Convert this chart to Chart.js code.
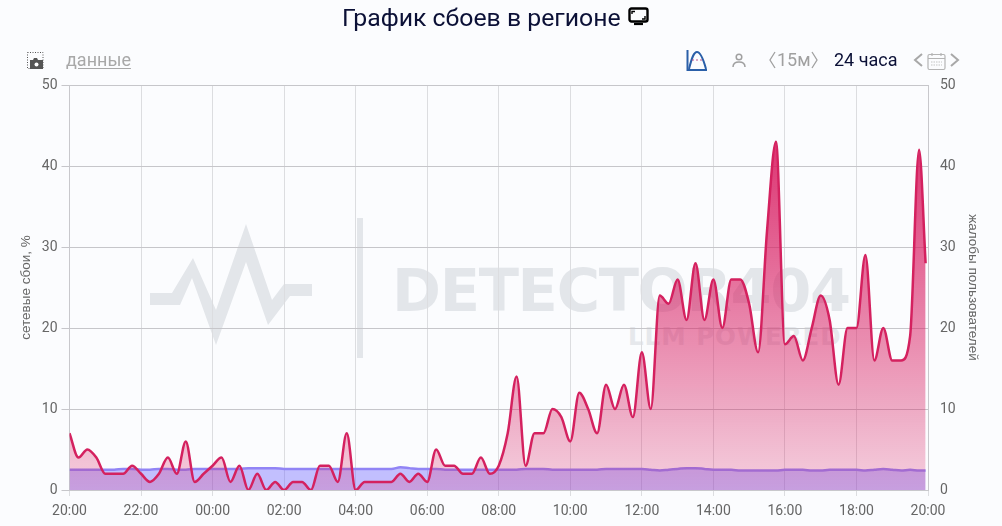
<!DOCTYPE html>
<html lang="ru">
<head>
<meta charset="utf-8">
<title>График сбоев в регионе</title>
<script src="https://cdn.jsdelivr.net/npm/chart.js@4"></script>
<style>
html,body{margin:0;padding:0;background:#fbfcfe;}
body{position:relative;width:1002px;height:526px;overflow:hidden;font-family:Roboto,sans-serif;}
canvas{position:absolute;left:0;top:0;z-index:2;}
.abs{position:absolute;white-space:nowrap;z-index:3;}
#title{left:342px;top:2px;font-size:24.800px;line-height:32px;color:#0b1036;}
#dataLink{left:66px;top:49px;font-size:18px;line-height:22px;color:#a8a8a8;text-decoration:underline;text-underline-offset:2px;}
#step{left:766px;top:49px;font-size:18px;line-height:22px;color:#a0a0a0;}
#range{left:834px;top:49px;font-size:18px;line-height:22px;color:#0b1036;}
.wm{position:absolute;white-space:nowrap;z-index:1;color:#e3e6ea;font-family:"DejaVu Sans",sans-serif;font-weight:700;}
#wm1{left:392px;top:256px;font-size:59px;line-height:70px;letter-spacing:-1.300px;}
#wm2{left:628px;top:322px;font-size:24.500px;line-height:30px;letter-spacing:1px;color:#e6e8ec;}
svg{position:absolute;overflow:visible;}
</style>
</head>
<body>
<div id="title" class="abs">График сбоев в регионе</div>
<svg class="abs" style="left:628px;top:7px" width="22" height="20" viewBox="0 0 22 20" fill="none">
  <rect x="1.5" y="1.5" width="18" height="13" rx="2" stroke="#000" stroke-width="2.4"/>
  <path d="M4 7V4.500H7M17 9V12H14" stroke="#000" stroke-width="1.4"/>
  <path d="M6 17H15" stroke="#000" stroke-width="2.2"/>
</svg>

<svg class="abs" style="left:27px;top:52px" width="17" height="18" viewBox="0 0 17 18" fill="none">
  <rect x="0.500" y="0.500" width="15.500" height="16" stroke="#555" stroke-dasharray="1 1.500"/>
  <path d="M3 8H6L7 6H10L11 8H16V17H3Z" fill="#555"/>
  <circle cx="9.500" cy="12.500" r="2" fill="#fff"/>
</svg>
<a id="dataLink" class="abs">данные</a>

<svg class="abs" style="left:686px;top:49px" width="22" height="23" viewBox="0 0 22 23" fill="none">
  <path d="M1.500 1V21H21" stroke="#2a5fa8" stroke-width="2"/>
  <path d="M3 20C6 8 8 3 11 3C14 3 17 9 20 20" stroke="#2a5fa8" stroke-width="2"/>
  <path d="M6 11H16" stroke="#c0508a" stroke-width="1.200" stroke-dasharray="2 2"/>
</svg>
<svg class="abs" style="left:732px;top:53px" width="14" height="15" viewBox="0 0 14 15" fill="none">
  <circle cx="7" cy="4" r="2.800" stroke="#a0a0a0" stroke-width="1.500"/>
  <path d="M1 14C1 10 4 9 7 9C10 9 13 10 13 14" stroke="#a0a0a0" stroke-width="1.500"/>
</svg>
<svg class="abs" style="left:768px;top:51px" width="10" height="18" viewBox="0 0 10 18" fill="none"><path d="M7 1L2 9L7 17" stroke="#a0a0a0" stroke-width="1.300"/></svg>
<div id="step" class="abs" style="left:777px">15м</div>
<svg class="abs" style="left:810px;top:51px" width="10" height="18" viewBox="0 0 10 18" fill="none"><path d="M2 1L7 9L2 17" stroke="#a0a0a0" stroke-width="1.300"/></svg>
<div id="range" class="abs">24 часа</div>
<svg class="abs" style="left:912px;top:52px" width="12" height="16" viewBox="0 0 12 16" fill="none"><path d="M10 2L3 8L10 14" stroke="#a8a8a8" stroke-width="2"/></svg>
<svg class="abs" style="left:927px;top:52px" width="20" height="18" viewBox="0 0 20 18" fill="none">
  <rect x="1" y="2.500" width="17" height="15" rx="1.500" stroke="#b4b4b4" stroke-width="1.200"/>
  <path d="M1 6.500H18M5 1V4M14 1V4" stroke="#b4b4b4" stroke-width="1.200"/>
  <path d="M4 10H15M4 13H15" stroke="#c4c4c4" stroke-width="1.200" stroke-dasharray="1.500 1"/>
</svg>
<svg class="abs" style="left:949px;top:52px" width="12" height="16" viewBox="0 0 12 16" fill="none"><path d="M2 2L9 8L2 14" stroke="#a8a8a8" stroke-width="2"/></svg>

<svg style="left:0;top:0;z-index:1" width="1002" height="526" fill="none">
  <path d="M150 293H172L193 258L216 310L246 224L272 300L284 284H312V296H290L268 325L246 262L216 345L192 278L180 305H150Z" fill="#e3e6ea"/>
  <path d="M360 218V358" stroke="#e3e6ea" stroke-width="6"/>
</svg>
<div id="wm1" class="wm">DETECTOR404</div>
<div id="wm2" class="wm">LLM POWERED</div>

<canvas id="chart" width="1002" height="526"></canvas>

<script>
// значения по картинке, шаг 15 минут
const tickStepMinutes = 120;
const startHour = 20;
const lastMinute = 1436; // последняя точка неполная

const complaints = [7,4,5,4,2,2,2,3,2,1,2,4,2,6,1,2,3,4,1,3,0,2,0,1,0,1,1,0,3,3,1,7,
  0,1,1,1,1,2,1,2,1,5,3,3,2,2,4,2,3,7,14,3,7,7,10,9,6,12,10,7,13,10,13,9,17,10,
  24,23,26,21,28,21,26,20,26,26,23,17,32,43,18,19,16,20,24,21,13,20,20,29,16,20,16,16,19,42,28];
const failures = [2.5,2.5,2.5,2.5,2.5,2.5,2.6,2.6,2.5,2.5,2.6,2.6,2.5,2.5,2.6,2.6,2.6,2.6,2.6,2.6,2.7,2.7,2.7,2.7,2.6,2.6,2.6,2.6,2.6,2.6,2.6,2.6,
  2.6,2.6,2.6,2.6,2.6,2.8,2.7,2.6,2.6,2.6,2.5,2.5,2.5,2.5,2.5,2.5,2.5,2.5,2.5,2.6,2.6,2.6,2.5,2.5,2.5,2.5,2.5,2.5,2.6,2.6,2.6,2.6,2.6,2.5,
  2.4,2.5,2.6,2.7,2.7,2.6,2.5,2.5,2.5,2.4,2.4,2.4,2.4,2.4,2.5,2.5,2.5,2.4,2.4,2.5,2.5,2.5,2.5,2.4,2.5,2.6,2.5,2.4,2.5,2.4,2.4];

function minuteOf(i){ return i === complaints.length-1 ? lastMinute : i*15; }
function toPoints(arr){ return arr.map((v,i)=>({x:minuteOf(i), y:v})); }
function clockLabel(m){
  const h = (startHour + m/60) % 24;
  return String(h).padStart(2,"0") + ":00";
}
function pinkFill(ctx){
  const area = ctx.chart.chartArea;
  if (!area) return "rgba(216,27,96,.5)";
  const g = ctx.chart.ctx.createLinearGradient(0, area.top, 0, area.bottom);
  g.addColorStop(0, "rgba(216,27,96,1)");
  g.addColorStop(1, "rgba(216,27,96,.2)");
  return g;
}

const tickFont = { family:"Roboto, sans-serif", size:14 };
const titleFont = { family:"'Liberation Sans', sans-serif", size:13.5 };

new Chart(document.getElementById("chart").getContext("2d"), {
  type: "line",
  data: { datasets: [
    { label:"жалобы пользователей", data: toPoints(complaints), yAxisID:"yRight", order:1,
      borderColor:"#d4215f", borderWidth:2.5, backgroundColor:pinkFill, fill:"origin",
      pointRadius:0, cubicInterpolationMode:"monotone" },
    { label:"сетевые сбои, %", data: toPoints(failures), yAxisID:"yLeft", order:2,
      borderColor:"#9184f5", borderWidth:2.5, backgroundColor:"rgba(110,100,255,.4)", fill:"origin",
      pointRadius:0, cubicInterpolationMode:"monotone" }
  ]},
  options: {
    responsive:false, animation:false,
    layout:{ padding:{ top:85, left:0, right:0, bottom:0 } },
    plugins:{ legend:{ display:false }, tooltip:{ enabled:false } },
    scales:{
      x:{ type:"linear", min:0, max:1440,
        afterFit(s){ s.height = 36; },
        border:{ color:"#c8c8cc" },
        grid:{ color:"#dcdde0", tickLength:6 },
        ticks:{ stepSize:tickStepMinutes, autoSkip:false, maxRotation:0, color:"#666", font:tickFont, padding:7,
          callback:clockLabel }
      },
      yLeft:{ position:"left", min:0, max:50,
        afterFit(s){ s.width = 69.5; },
        border:{ color:"#c8c8cc" },
        grid:{ color:"#c6c6ca", tickLength:8 },
        ticks:{ stepSize:10, color:"#666", font:tickFont, padding:4 },
        title:{ display:true, text:"сетевые сбои, %", color:"#666", font:titleFont, padding:{top:18,bottom:0} }
      },
      yRight:{ position:"right", min:0, max:50,
        afterFit(s){ s.width = 74; },
        border:{ color:"#c8c8cc" },
        grid:{ display:false, tickLength:8 },
        ticks:{ stepSize:10, color:"#666", font:tickFont, padding:4 },
        title:{ display:true, text:"жалобы пользователей", color:"#666", font:titleFont, padding:{top:21,bottom:0} }
      }
    }
  }
});
</script>
</body>
</html>
